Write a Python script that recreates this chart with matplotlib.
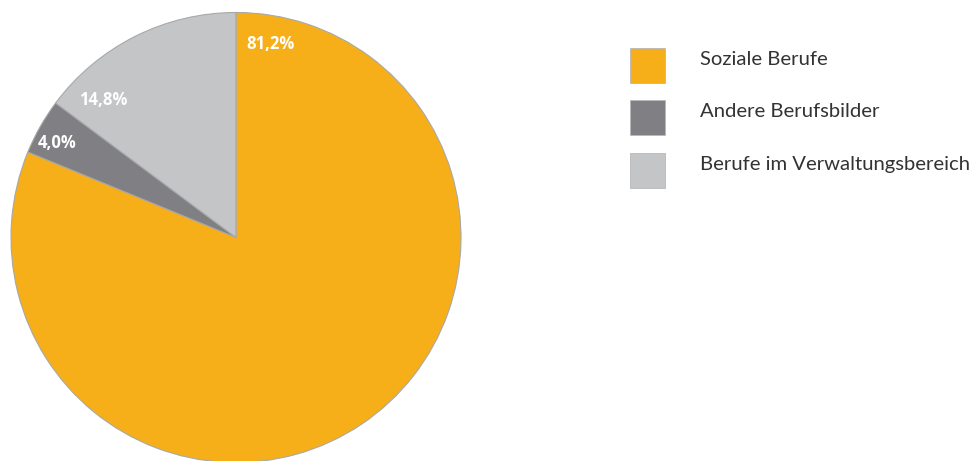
import matplotlib
matplotlib.use("Agg")
import matplotlib.pyplot as plt
from matplotlib.patches import Rectangle

categories = ["Soziale Berufe", "Andere Berufsbilder", "Berufe im Verwaltungsbereich"]
values = [81.2, 4.0, 14.8]
value_labels = ["81,2%", "4,0%", "14,8%"]
colors = ["#F7AF19", "#808084", "#C4C5C7"]

W, H = 979, 461
fig = plt.figure(figsize=(W / 100, H / 100), dpi=100)
ax = fig.add_axes([0, 0, 1, 1])

cx, cy, r = 236, 237.5, 225
# y axis inverted -> counterclock=True in data means clockwise on screen; startangle -90 = top
ax.pie(values, colors=colors, startangle=-90, counterclock=True,
       center=(cx, cy), radius=r, frame=True,
       wedgeprops=dict(edgecolor="#A8A8A8", linewidth=0.8))
ax.set_xlim(0, W)
ax.set_ylim(H, 0)
ax.set_aspect("equal")
ax.axis("off")

label_pos = [(271, 44), (57, 143), (103, 100)]
for (x, y), t in zip(label_pos, value_labels):
    ax.text(x, y, t, color="white", fontsize=12, fontweight="bold",
            family="Open Sans", ha="center", va="center")

sq_x, sq_w = 630, 35
sq_tops = [48, 100, 153]
for top, c, name in zip(sq_tops, colors, categories):
    ax.add_patch(Rectangle((sq_x, top), sq_w, sq_w, facecolor=c,
                           edgecolor="#B8B8B8", linewidth=0.6))
    ax.text(700, top + 17, name, fontsize=14.6, family="Lato",
            color="#333333", ha="left", va="baseline")

fig.savefig("out.png", dpi=100)
